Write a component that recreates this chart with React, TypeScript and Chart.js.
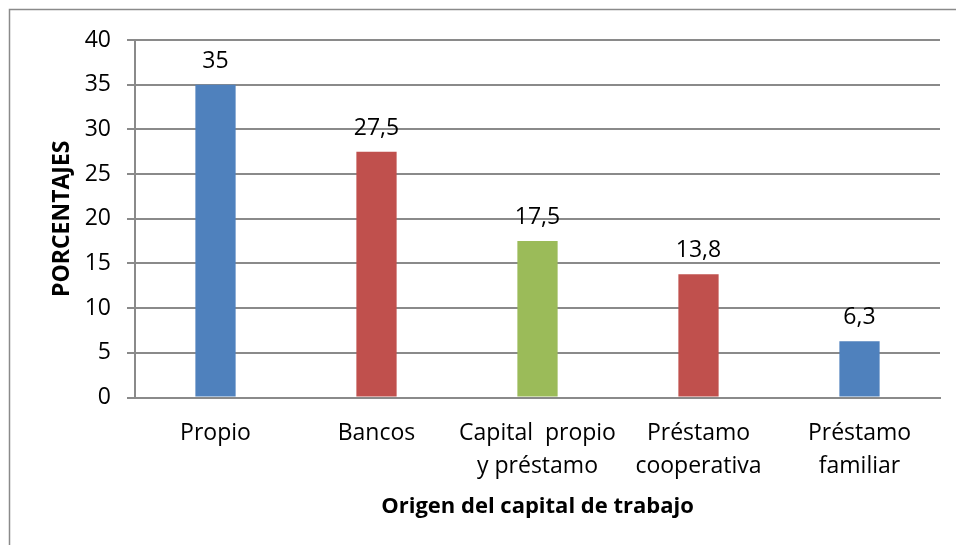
import React, { useEffect, useRef } from "react";
import { Chart, registerables } from "chart.js";

Chart.register(...registerables);

const categories: (string | string[])[] = [
  "Propio",
  "Bancos",
  ["Capital  propio", "y préstamo"],
  ["Préstamo", "cooperativa"],
  ["Préstamo", "familiar"],
];
const values: number[] = [35, 27.5, 17.5, 13.8, 6.3];
const valueLabels: string[] = ["35", "27,5", "17,5", "13,8", "6,3"];
const barColors: string[] = ["#4F81BD", "#C0504D", "#9BBB59", "#C0504D", "#4F81BD"];
const yTitle = "PORCENTAJES";
const xTitle = "Origen del capital de trabajo";

const FONT = "'Open Sans', sans-serif";

const frame = {
  id: "frame",
  beforeDraw(chart: any) {
    const ctx = chart.ctx;
    ctx.save();
    ctx.fillStyle = "#ffffff";
    ctx.fillRect(0, 0, chart.width, chart.height);
    ctx.strokeStyle = "#8a8a8a";
    ctx.lineWidth = 1.5;
    ctx.strokeRect(9.5, 9.5, chart.width + 10, chart.height + 10);
    ctx.restore();
  },
};

const valueLabelPlugin = {
  id: "valueLabels",
  afterDatasetsDraw(chart: any) {
    const ctx = chart.ctx;
    const meta = chart.getDatasetMeta(0);
    ctx.save();
    ctx.font = `23px ${FONT}`;
    ctx.fillStyle = "#000000";
    ctx.textAlign = "center";
    ctx.textBaseline = "alphabetic";
    meta.data.forEach((bar: any, i: number) => {
      ctx.fillText(valueLabels[i], bar.x, bar.y - 17);
    });
    ctx.restore();
  },
};

export default function App() {
  const ref = useRef<HTMLCanvasElement | null>(null);
  useEffect(() => {
    if (!ref.current) return;
    const chart = new Chart(ref.current, {
      type: "bar",
      data: {
        labels: categories,
        datasets: [
          {
            data: values,
            backgroundColor: barColors,
            borderWidth: 0,
            barPercentage: 0.5,
            categoryPercentage: 0.5,
          },
        ],
      },
      options: {
        animation: false,
        responsive: false,
        maintainAspectRatio: false,
        layout: { padding: { left: 0, top: 40, right: 16, bottom: 0 } },
        plugins: {
          legend: { display: false },
          tooltip: { enabled: false },
        },
        scales: {
          x: {
            grid: { display: false, drawTicks: false },
            border: { display: true, color: "#8a8a8a", width: 2 },
            ticks: {
              color: "#000000",
              font: { family: FONT, size: 23, lineHeight: 1.42 },
              padding: 20,
              maxRotation: 0,
              autoSkip: false,
            },
            title: {
              display: true,
              text: xTitle,
              color: "#000000",
              font: { family: FONT, size: 22, weight: "bold", lineHeight: 1.2 },
              padding: { top: 0, bottom: 25 },
            },
            afterFit(scale: any) {
              scale.height = 147.5;
            },
          },
          y: {
            min: 0,
            max: 40,
            ticks: {
              stepSize: 5,
              color: "#000000",
              font: { family: FONT, size: 23 },
              padding: 16,
            },
            grid: { color: "#8a8a8a", lineWidth: 2, tickLength: 8 },
            border: { display: true, color: "#8a8a8a", width: 2 },
            title: {
              display: true,
              text: yTitle,
              color: "#000000",
              font: { family: FONT, size: 23, weight: "bold", lineHeight: 1.2 },
              padding: { top: 49, bottom: 0 },
            },
            afterFit(scale: any) {
              scale.width = 135;
            },
          },
        },
      },
      plugins: [frame, valueLabelPlugin],
    });
    return () => chart.destroy();
  }, []);
  return (
    <div style={{ position: "fixed", left: 0, top: 0, width: 956, height: 545 }}>
      <canvas ref={ref} width={956} height={545} style={{ width: 956, height: 545, display: "block" }} />
    </div>
  );
}
